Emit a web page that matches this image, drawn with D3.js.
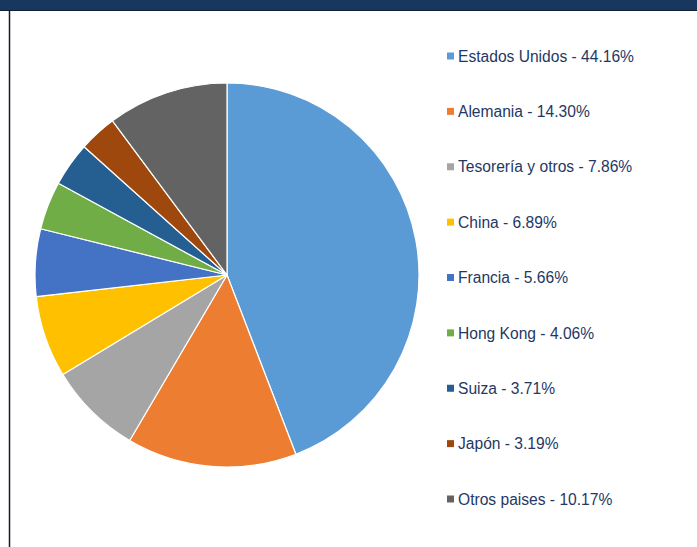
<!DOCTYPE html>
<html>
<head>
<meta charset="utf-8">
<script src="https://cdn.jsdelivr.net/npm/d3@7"></script>
<style>
  html, body { margin: 0; padding: 0; background: #ffffff; }
  svg { display: block; }
</style>
</head>
<body>
<svg id="chart" width="697" height="547"></svg>
<script>
// Holder composition by country (share of total, %)
const categories = [
  "Estados Unidos", "Alemania", "Tesorería y otros", "China", "Francia",
  "Hong Kong", "Suiza", "Japón", "Otros paises"
];
const shares = [44.16, 14.30, 7.86, 6.89, 5.66, 4.06, 3.71, 3.19, 10.17];
const sliceColors = [
  "#5b9bd5", "#ed7d31", "#a5a5a5", "#ffc000", "#4472c4",
  "#70ad47", "#255e91", "#9e480e", "#636363"
];

const data = categories.map((name, i) => ({ name, value: shares[i] }));

const svg = d3.select("#chart");
const W = 697, H = 547;

// Header band and panel frame
svg.append("rect").attr("x", 0).attr("y", 0).attr("width", W).attr("height", 10)
  .attr("fill", "#17375e");
svg.append("line").attr("x1", 0).attr("x2", W).attr("y1", 10.5).attr("y2", 10.5)
  .attr("stroke", "#0f1f33").attr("stroke-width", 1.2);
svg.append("line").attr("x1", 9.5).attr("x2", 9.5).attr("y1", 10).attr("y2", H)
  .attr("stroke", "#1a1a2a").attr("stroke-width", 1.5);

// Pie
const cx = 227, cy = 275, r = 192;
const color = d3.scaleOrdinal().domain(categories).range(sliceColors);
const pie = d3.pie().value(d => d.value).sort(null);
const arc = d3.arc().innerRadius(0).outerRadius(r);

svg.append("g").attr("transform", `translate(${cx},${cy})`)
  .selectAll("path")
  .data(pie(data))
  .join("path")
  .attr("d", arc)
  .attr("fill", d => color(d.data.name))
  .attr("stroke", "#ffffff")
  .attr("stroke-width", 1.2)
  .attr("stroke-linejoin", "round");

// Legend
const legendY = d3.scalePoint().domain(categories).range([56, 499]);
const legend = svg.append("g").selectAll("g")
  .data(data)
  .join("g")
  .attr("transform", d => `translate(447,${legendY(d.name)})`);

legend.append("rect")
  .attr("x", 0).attr("y", -3.5).attr("width", 7).attr("height", 7)
  .attr("fill", d => color(d.name));

legend.append("text")
  .attr("x", 11).attr("y", 0).attr("dy", "0.36em")
  .attr("font-family", "Liberation Sans, Arial, sans-serif")
  .attr("font-size", 15.6)
  .attr("fill", "#1f3864")
  .text(d => `${d.name} - ${d.value.toFixed(2)}%`);
</script>
</body>
</html>
